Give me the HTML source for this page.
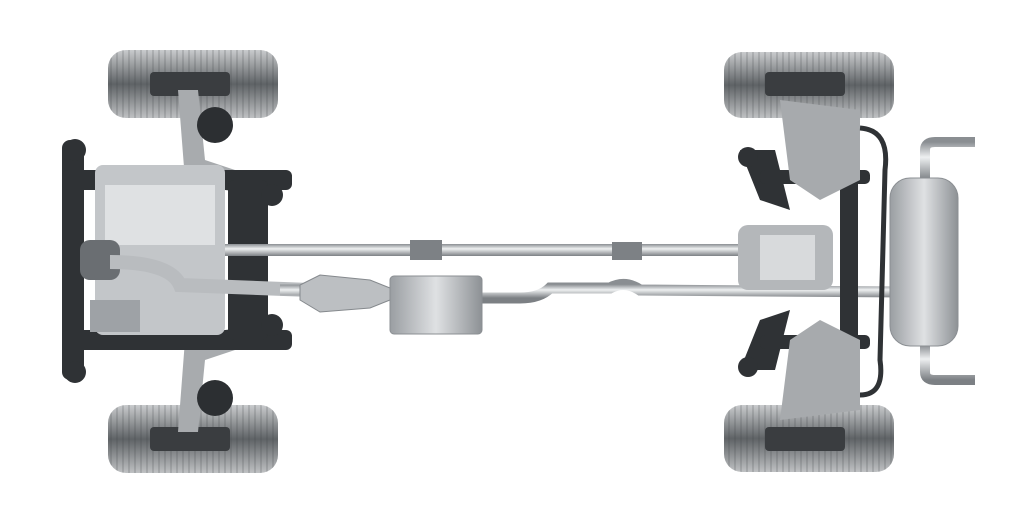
<!DOCTYPE html>
<html><head><style>
html,body{margin:0;padding:0;background:#fff;width:1024px;height:517px;overflow:hidden}
</style></head><body>
<svg width="1024" height="517" viewBox="0 0 1024 517" xmlns="http://www.w3.org/2000/svg">
<defs>
<linearGradient id="tire" x1="0" y1="0" x2="0" y2="1">
<stop offset="0" stop-color="#c9cbcd"/><stop offset="0.5" stop-color="#5f6366"/><stop offset="1" stop-color="#bfc1c3"/>
</linearGradient>
<linearGradient id="pipe" x1="0" y1="0" x2="0" y2="1">
<stop offset="0" stop-color="#8a8e92"/><stop offset="0.4" stop-color="#eef0f1"/><stop offset="1" stop-color="#7c8084"/>
</linearGradient>
<linearGradient id="muff" x1="0" y1="0" x2="1" y2="0">
<stop offset="0" stop-color="#9a9ea2"/><stop offset="0.5" stop-color="#dfe1e3"/><stop offset="1" stop-color="#8d9195"/>
</linearGradient>
<pattern id="tread" width="6" height="10" patternUnits="userSpaceOnUse">
<rect width="6" height="10" fill="none"/><line x1="3" y1="0" x2="3" y2="10" stroke="#3e4245" stroke-width="1"/>
</pattern>
</defs>
<!-- tires -->
<g>
<rect x="108" y="50" width="170" height="68" rx="18" fill="url(#tire)"/><rect x="108" y="50" width="170" height="68" rx="18" fill="url(#tread)" opacity="0.35"/>
<rect x="108" y="405" width="170" height="68" rx="18" fill="url(#tire)"/><rect x="108" y="405" width="170" height="68" rx="18" fill="url(#tread)" opacity="0.35"/>
<rect x="724" y="52" width="170" height="66" rx="18" fill="url(#tire)"/><rect x="724" y="52" width="170" height="66" rx="18" fill="url(#tread)" opacity="0.35"/>
<rect x="724" y="405" width="170" height="67" rx="18" fill="url(#tire)"/><rect x="724" y="405" width="170" height="67" rx="18" fill="url(#tread)" opacity="0.35"/>
</g>
<!-- front hubs / knuckles -->
<g fill="#3a3d40">
<rect x="150" y="72" width="80" height="24" rx="4"/><rect x="150" y="427" width="80" height="24" rx="4"/>
<rect x="765" y="72" width="80" height="24" rx="4"/><rect x="765" y="427" width="80" height="24" rx="4"/>
</g>
<g fill="#a8abae">
<path d="M178 90 L198 90 L205 160 L250 175 L245 195 L185 180 Z"/>
<path d="M178 432 L198 432 L205 360 L250 345 L245 325 L185 340 Z"/>
<circle cx="215" cy="125" r="18" fill="#2c2f32"/><circle cx="215" cy="398" r="18" fill="#2c2f32"/>
</g>
<!-- front subframe -->
<g fill="#2f3235">
<rect x="62" y="140" width="22" height="240" rx="8"/>
<rect x="62" y="170" width="230" height="20" rx="6"/>
<rect x="62" y="330" width="230" height="20" rx="6"/>
<rect x="228" y="180" width="40" height="160" rx="6"/>
<circle cx="75" cy="150" r="11"/><circle cx="75" cy="372" r="11"/>
<circle cx="272" cy="195" r="11"/><circle cx="272" cy="325" r="11"/>
</g>
<!-- engine -->
<rect x="95" y="165" width="130" height="170" rx="8" fill="#c3c6c9"/>
<rect x="105" y="185" width="110" height="60" fill="#dfe1e3"/>
<rect x="80" y="240" width="40" height="40" rx="10" fill="#6a6e72"/>
<rect x="90" y="300" width="50" height="32" fill="#9ea2a6"/>
<path d="M110 262 Q170 262 180 285 L310 290" fill="none" stroke="#b9bcbf" stroke-width="14"/>
<!-- driveshaft -->
<rect x="225" y="244" width="520" height="12" fill="url(#pipe)"/>
<rect x="410" y="240" width="32" height="20" fill="#7d8185"/>
<rect x="612" y="242" width="30" height="18" fill="#7d8185"/>
<!-- exhaust -->
<path d="M280 290 L315 290 M480 298 L520 298 Q540 298 550 288 L610 288 Q625 280 640 290 L900 292" fill="none" stroke="url(#pipe)" stroke-width="11"/>
<path d="M300 285 L320 275 L370 280 L390 288 L390 300 L370 308 L320 312 L300 300 Z" fill="#bcbfc2" stroke="#85898d"/>
<rect x="390" y="276" width="92" height="58" rx="4" fill="url(#muff)" stroke="#8b8f93"/>
<!-- rear suspension -->
<g fill="#2f3235">
<path d="M740 150 L775 150 L790 210 L760 200 Z"/><path d="M740 370 L775 370 L790 310 L760 320 Z"/>
<rect x="760" y="170" width="110" height="14" rx="5"/><rect x="760" y="335" width="110" height="14" rx="5"/>
<rect x="840" y="150" width="18" height="220" rx="6"/>
<circle cx="748" cy="157" r="10"/><circle cx="748" cy="367" r="10"/>
</g>
<path d="M780 100 L860 110 L860 180 L820 200 L790 180 Z" fill="#a7aaad"/>
<path d="M780 420 L860 410 L860 340 L820 320 L790 340 Z" fill="#a7aaad"/>
<path d="M860 128 Q890 130 885 170 L880 360 Q885 395 860 395" fill="none" stroke="#2f3235" stroke-width="5"/>
<rect x="738" y="225" width="95" height="65" rx="10" fill="#b4b7ba"/>
<rect x="760" y="235" width="55" height="45" fill="#d8dadc"/>
<!-- rear muffler & tailpipes -->
<path d="M925 180 L925 150 Q925 142 935 142 L975 142" fill="none" stroke="url(#pipe)" stroke-width="10"/>
<path d="M925 345 L925 372 Q925 380 935 380 L975 380" fill="none" stroke="url(#pipe)" stroke-width="10"/>
<rect x="890" y="178" width="68" height="168" rx="20" fill="url(#muff)" stroke="#8b8f93"/>
</svg>
</body></html>
